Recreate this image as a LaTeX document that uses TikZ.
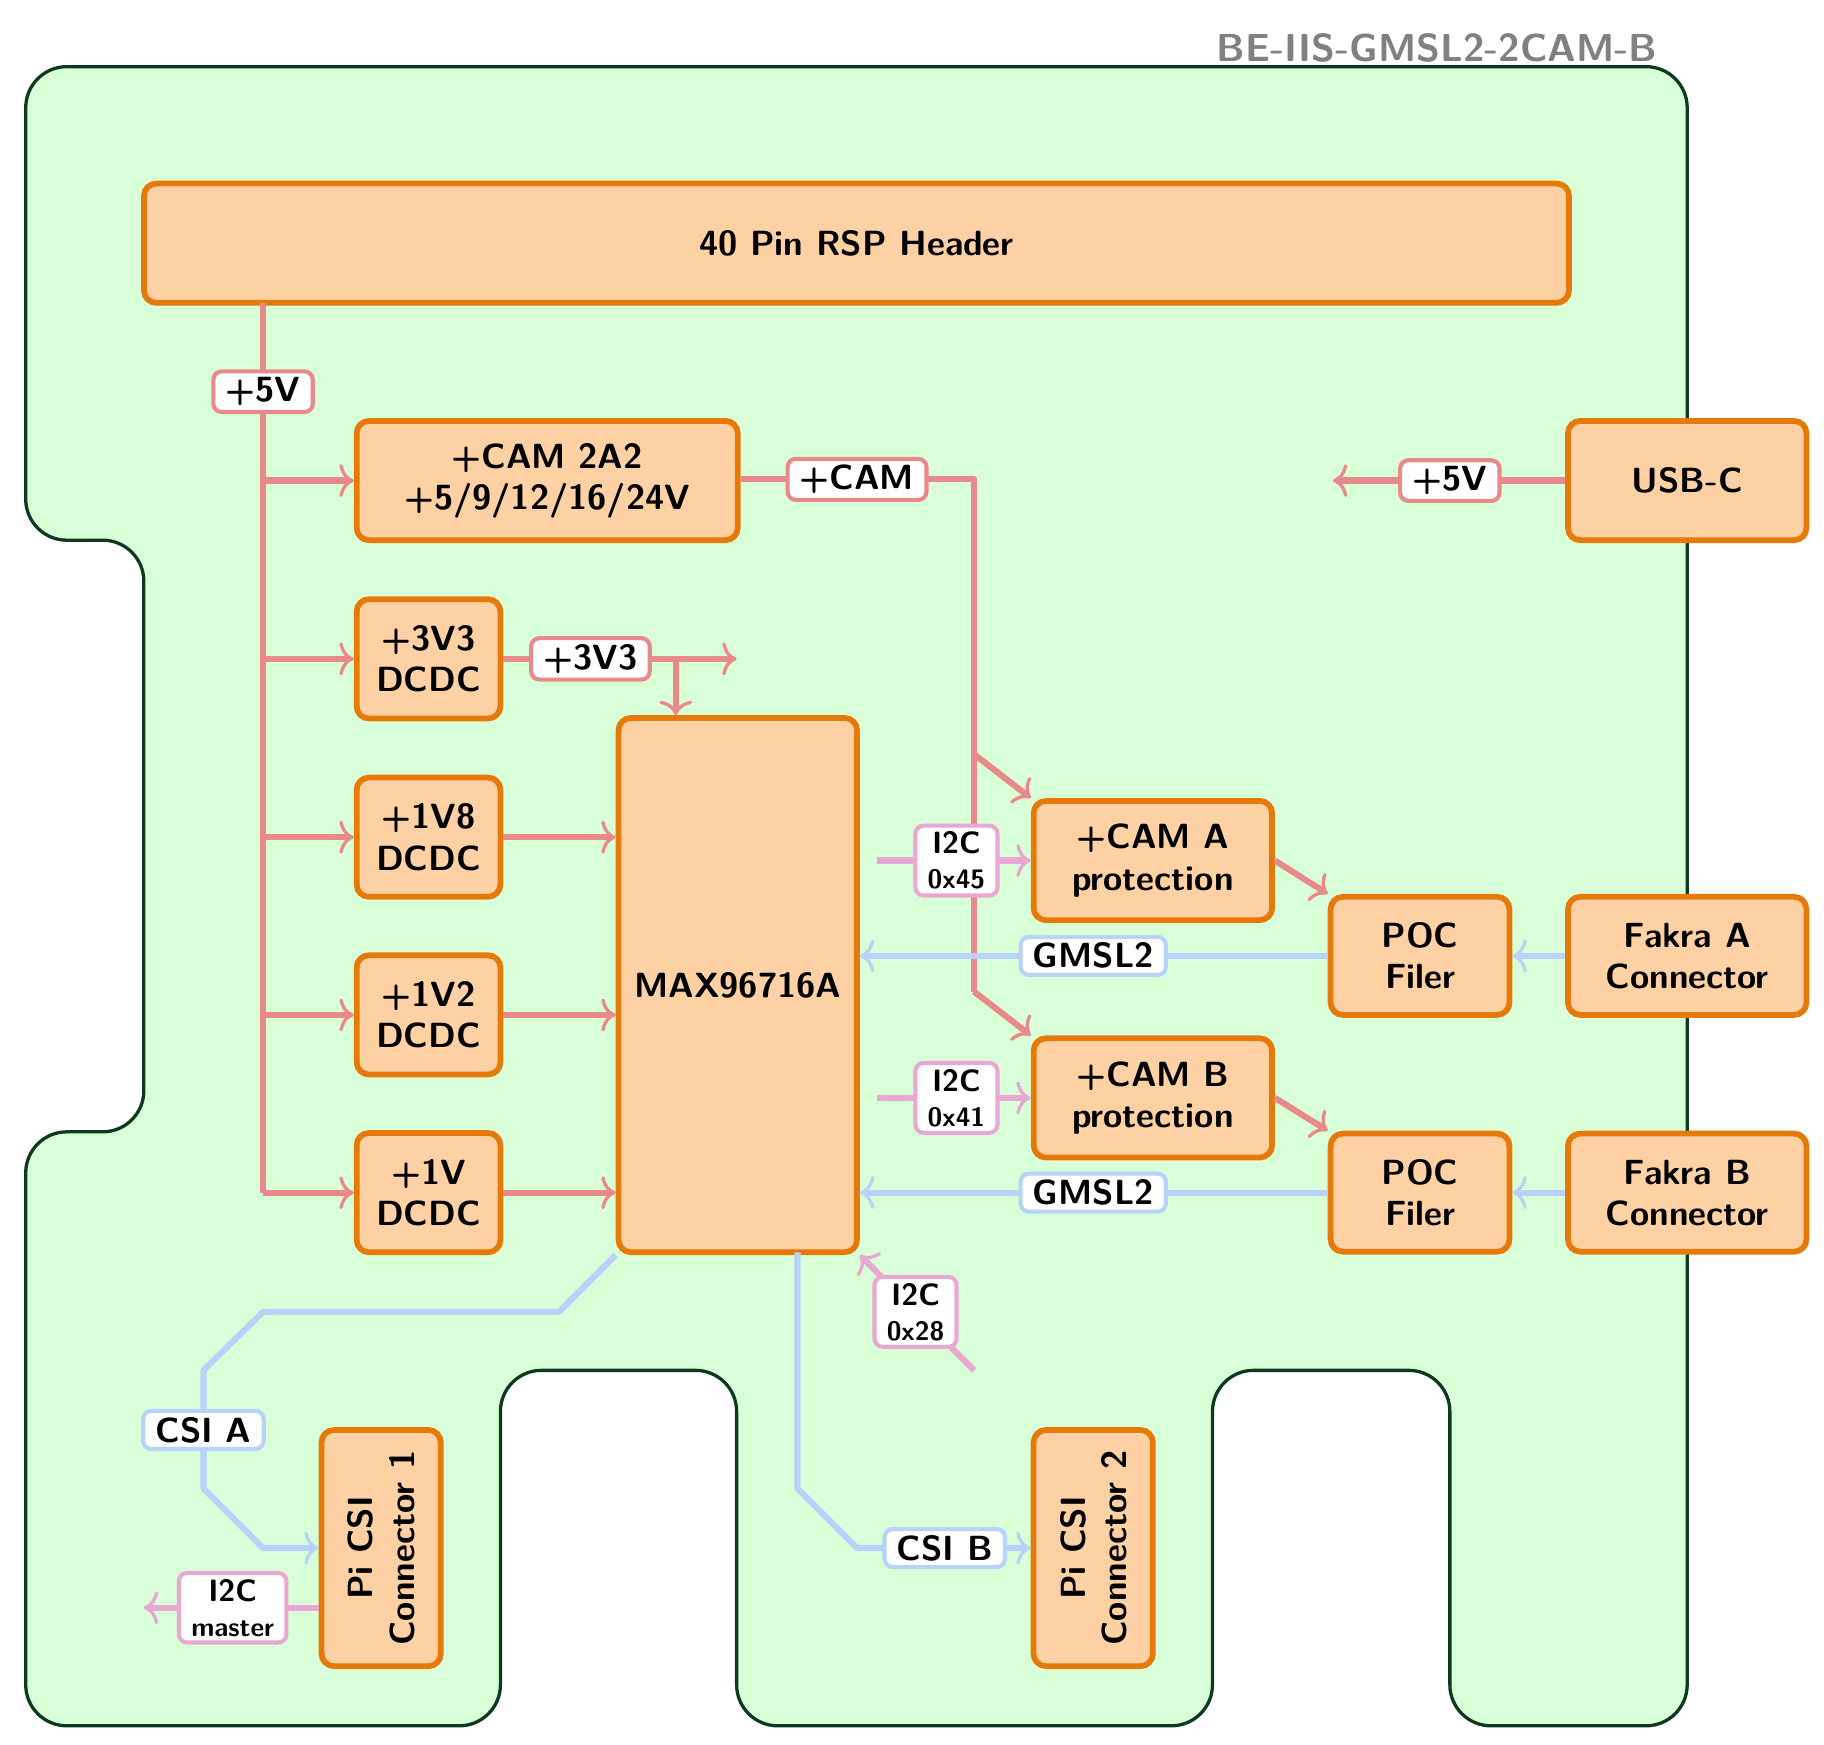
\documentclass[tikz,border=0pt]{standalone}
\usetikzlibrary{arrows.meta}
\definecolor{boardfill}{HTML}{D9FFD9}
\definecolor{boardline}{HTML}{0B3A1E}
\definecolor{boxfill}{HTML}{FDD1A3}
\definecolor{boxline}{HTML}{E57A0A}
\definecolor{pwr}{HTML}{E88A8A}
\definecolor{ctl}{HTML}{E8A8D2}
\definecolor{sig}{HTML}{B8D2FA}
\begin{document}
\begin{tikzpicture}[x=0.02cm,y=-0.02cm,
  font=\fontsize{17}{20}\selectfont\sffamily\bfseries,
  box/.style={draw=boxline,fill=boxfill,line width=2.8pt,rounded corners=6pt,align=center,inner sep=0pt},
  wire/.style={line width=3pt,line join=round},
  tip/.style={-{To[length=7pt,width=16pt,line width=1.6pt]}},
  p/.style={wire,draw=pwr},
  c/.style={wire,draw=ctl},
  s/.style={wire,draw=sig},
  lbl/.style={fill=white,rounded corners=4pt,line width=2pt,inner xsep=6pt,inner ysep=3pt,align=center},
  pl/.style={lbl,draw=pwr},
  cl/.style={lbl,draw=ctl,font=\fontsize{15}{19}\selectfont\sffamily\bfseries},
  sl/.style={lbl,draw=sig}]
\useasboundingbox (0,0) rectangle (1560,1492);
\draw[fill=boardfill,draw=boardline,line width=1.6pt,rounded corners=20] (22,57) -- (1443,57) -- (1443,1476) -- (1240,1476) -- (1240,1172) -- (1037,1172) -- (1037,1476) -- (630,1476) -- (630,1172) -- (428,1172) -- (428,1476) -- (22,1476) -- (22,968) -- (123,968) -- (123,462) -- (22,462) -- cycle;
\node[text=gray,anchor=south east,inner sep=0pt,font=\fontsize{19}{22}\selectfont\sffamily\bfseries] (title) at (1418,54) {BE-IIS-GMSL2-2CAM-B};

\node[box,minimum width=24.38cm,minimum height=2.04cm] (hdr) at (732.5,208) {40 Pin RSP Header};
\node[box,minimum width=6.52cm,minimum height=2.04cm] (cam) at (468,411) {+CAM 2A2\\+5/9/12/16/24V};
\node[box,minimum width=2.46cm,minimum height=2.04cm] (d33) at (366.5,563.5) {+3V3\\DCDC};
\node[box,minimum width=2.46cm,minimum height=2.04cm] (d18) at (366.5,716) {+1V8\\DCDC};
\node[box,minimum width=2.46cm,minimum height=2.04cm] (d12) at (366.5,868) {+1V2\\DCDC};
\node[box,minimum width=2.46cm,minimum height=2.04cm] (d10) at (366.5,1020) {+1V\\DCDC};
\node[box,minimum width=4.08cm,minimum height=9.14cm] (max) at (631,842.5) {MAX96716A};
\node[box,minimum width=4.08cm,minimum height=2.04cm] (usb) at (1443,411) {USB-C};
\node[box,minimum width=4.08cm,minimum height=2.04cm] (pa) at (986,736) {+CAM A\\protection};
\node[box,minimum width=4.08cm,minimum height=2.04cm] (pb) at (986,939) {+CAM B\\protection};
\node[box,minimum width=3.06cm,minimum height=2.02cm] (poa) at (1214.5,817.5) {POC\\Filer};
\node[box,minimum width=3.06cm,minimum height=2.02cm] (pob) at (1214.5,1020) {POC\\Filer};
\node[box,minimum width=4.08cm,minimum height=2.02cm] (fa) at (1443,817.5) {Fakra A\\Connector};
\node[box,minimum width=4.08cm,minimum height=2.02cm] (fb) at (1443,1020) {Fakra B\\Connector};
\node[box,rotate=90,minimum width=4.04cm,minimum height=2.04cm] (pi1) at (326,1324) {Pi CSI\\Connector 1};
\node[box,rotate=90,minimum width=4.04cm,minimum height=2.04cm] (pi2) at (935,1324) {Pi CSI\\Connector 2};

% power
\coordinate (v0) at (225,259);
\coordinate (v1) at (225,1020);
\draw[p] (v0) -- (v1);
\node[pl] (l5v) at (225,335) {+5V};
\foreach \n in {cam,d33,d18,d12,d10}{\draw[p,tip] (v1 |- \n.west) -- (\n.west);}
\coordinate (cj) at (833,410);
\coordinate (ca) at (833,645);
\coordinate (cb) at (833,848);
\draw[p] (cam.east |- cj) -- (cj) -- (cb);
\draw[p,tip] (ca) -- (pa.north west);
\draw[p,tip] (cb) -- (pb.north west);
\node[pl] (lcam) at (733,410) {+CAM};
\coordinate (e33) at (630,563.5);
\coordinate (j33) at (578,563.5);
\draw[p,tip] (d33.east) -- (e33);
\draw[p,tip] (j33) -- (j33 |- max.north);
\node[pl] (l33) at (505,563.5) {+3V3};
\foreach \n in {d18,d12,d10}{\draw[p,tip] (\n.east) -- (\n.east -| max.west);}
\coordinate (eu) at (1140,411);
\draw[p,tip] (usb.west) -- (eu);
\node[pl] (lu) at (1240,411) {+5V};
\draw[p,tip] (pa.east) -- (poa.north west);
\draw[p,tip] (pb.east) -- (pob.north west);

% control
\coordinate (ia) at (750,736);
\coordinate (ib) at (750,939);
\draw[c,tip] (ia) -- (pa.west);
\draw[c,tip] (ib) -- (pb.west);
\node[cl] (li45) at (818,736) {I2C\\[-2pt]{\fontsize{13}{16}\selectfont 0x45}};
\node[cl] (li41) at (818,939) {I2C\\[-2pt]{\fontsize{13}{16}\selectfont 0x41}};
\coordinate (i28) at (833,1172);
\draw[c,tip] (i28) -- (max.south east);
\node[cl] (li28) at (783,1122) {I2C\\[-2pt]{\fontsize{13}{16}\selectfont 0x28}};
\coordinate (im) at (123,1375);
\draw[c,tip] (pi1.north |- im) -- (im);
\node[cl] (lim) at (199,1375) {I2C\\[-2pt]{\fontsize{13}{16}\selectfont master}};

% signal
\draw[s,tip] (poa.west) -- (poa.west -| max.east);
\draw[s,tip] (pob.west) -- (pob.west -| max.east);
\node[sl] (lga) at (935,817.5) {GMSL2};
\node[sl] (lgb) at (935,1020) {GMSL2};
\draw[s,tip] (fa.west) -- (poa.east);
\draw[s,tip] (fb.west) -- (pob.east);
\draw[s,tip] (max.south west) -- (478,1122) -- (225,1122) -- (174,1172) -- (174,1273) -- (225,1324) -- (pi1.north |- 225,1324);
\node[sl] (lcsa) at (174,1223) {CSI A};
\coordinate (sb) at (682,1071);
\draw[s,tip] (sb) -- (682,1273) -- (733,1324) -- (pi2.north |- 733,1324);
\node[sl] (lcsb) at (808,1324) {CSI B};
\end{tikzpicture}
\end{document}
